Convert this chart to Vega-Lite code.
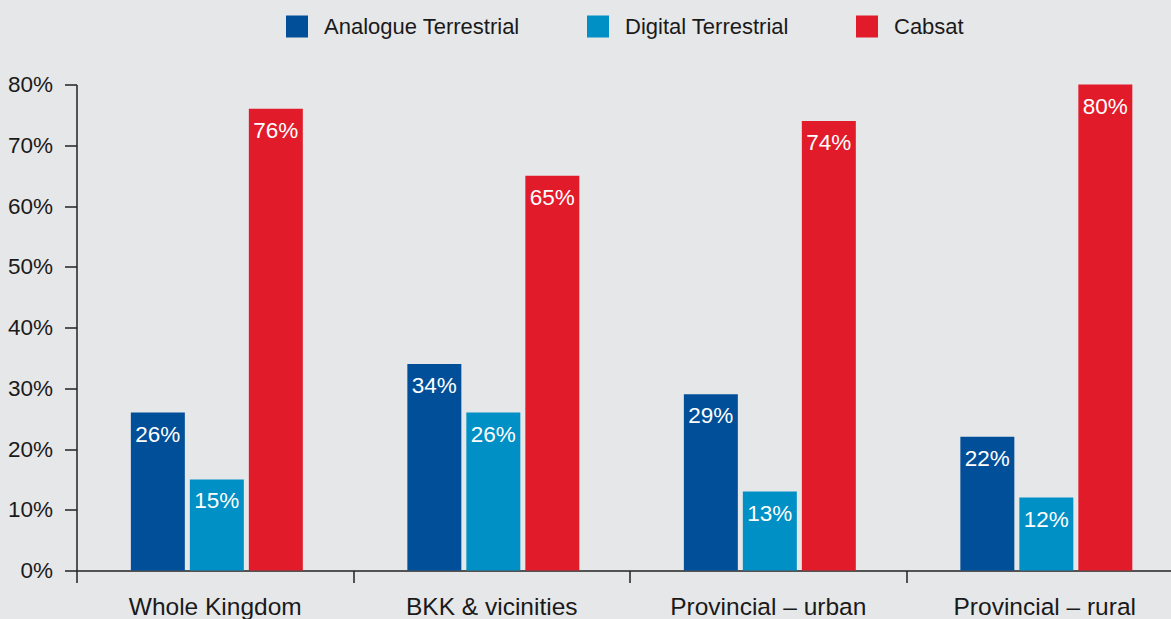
{
  "$schema": "https://vega.github.io/schema/vega-lite/v6.json",
  "width": 1095,
  "height": 486,
  "autosize": {"type": "none"},
  "padding": {"left": 76.5, "top": 84.5, "right": 0, "bottom": 48.5},
  "background": "#e6e7e9",
  "config": {"view": {"stroke": null}, "font": "Liberation Sans"},
  "data": {
    "values": [
      {"region": "Whole Kingdom", "platform": "Analogue Terrestrial", "share": 0.26},
      {"region": "Whole Kingdom", "platform": "Digital Terrestrial", "share": 0.15},
      {"region": "Whole Kingdom", "platform": "Cabsat", "share": 0.76},
      {"region": "BKK & vicinities", "platform": "Analogue Terrestrial", "share": 0.34},
      {"region": "BKK & vicinities", "platform": "Digital Terrestrial", "share": 0.26},
      {"region": "BKK & vicinities", "platform": "Cabsat", "share": 0.65},
      {"region": "Provincial – urban", "platform": "Analogue Terrestrial", "share": 0.29},
      {"region": "Provincial – urban", "platform": "Digital Terrestrial", "share": 0.13},
      {"region": "Provincial – urban", "platform": "Cabsat", "share": 0.74},
      {"region": "Provincial – rural", "platform": "Analogue Terrestrial", "share": 0.22},
      {"region": "Provincial – rural", "platform": "Digital Terrestrial", "share": 0.12},
      {"region": "Provincial – rural", "platform": "Cabsat", "share": 0.80}
    ]
  },
  "encoding": {
    "x": {
      "field": "region",
      "type": "nominal",
      "sort": ["Whole Kingdom", "BKK & vicinities", "Provincial – urban", "Provincial – rural"],
      "scale": {"range": [0, 1106], "paddingInner": 0, "paddingOuter": 0},
      "axis": {
        "title": null,
        "labelAngle": 0,
        "labelFontSize": 24.5,
        "labelColor": "#1a1a1a",
        "labelPadding": 13,
        "labelLimit": 0,
        "tickBand": "extent",
        "tickSize": 12,
        "tickWidth": 1.5,
        "tickColor": "#222222",
        "domainColor": "#222222",
        "domainWidth": 1.5
      }
    },
    "xOffset": {
      "field": "platform",
      "type": "nominal",
      "sort": ["Analogue Terrestrial", "Digital Terrestrial", "Cabsat"],
      "scale": {"paddingInner": 0.085, "paddingOuter": 0.886, "align": 0.52}
    },
    "y": {
      "field": "share",
      "type": "quantitative",
      "scale": {"domain": [0, 0.8], "nice": false},
      "axis": {
        "title": null,
        "values": [0, 0.1, 0.2, 0.3, 0.4, 0.5, 0.6, 0.7, 0.8],
        "format": ".0%",
        "grid": false,
        "labelFontSize": 22.5,
        "labelColor": "#1a1a1a",
        "labelPadding": 12,
        "tickSize": 12,
        "tickWidth": 1.5,
        "tickColor": "#222222",
        "domainColor": "#222222",
        "domainWidth": 1.5
      }
    }
  },
  "layer": [
    {
      "mark": {"type": "bar"},
      "encoding": {
        "color": {
          "field": "platform",
          "type": "nominal",
          "scale": {
            "domain": ["Analogue Terrestrial", "Digital Terrestrial", "Cabsat"],
            "range": ["#004f98", "#0090c5", "#e21b2a"]
          },
          "legend": {
            "title": null,
            "orient": "none",
            "legendX": 209.5,
            "legendY": -69,
            "direction": "horizontal",
            "columns": 3,
            "symbolType": "square",
            "symbolSize": 484,
            "symbolStrokeWidth": 0,
            "labelFontSize": 22,
            "labelColor": "#1a1a1a",
            "labelOffset": 16,
            "labelLimit": 0,
            "columnPadding": 67
          }
        }
      }
    },
    {
      "mark": {"type": "text", "color": "white", "baseline": "alphabetic", "dy": 29, "fontSize": 22.5},
      "encoding": {
        "text": {"field": "share", "type": "quantitative", "format": ".0%"}
      }
    }
  ]
}
